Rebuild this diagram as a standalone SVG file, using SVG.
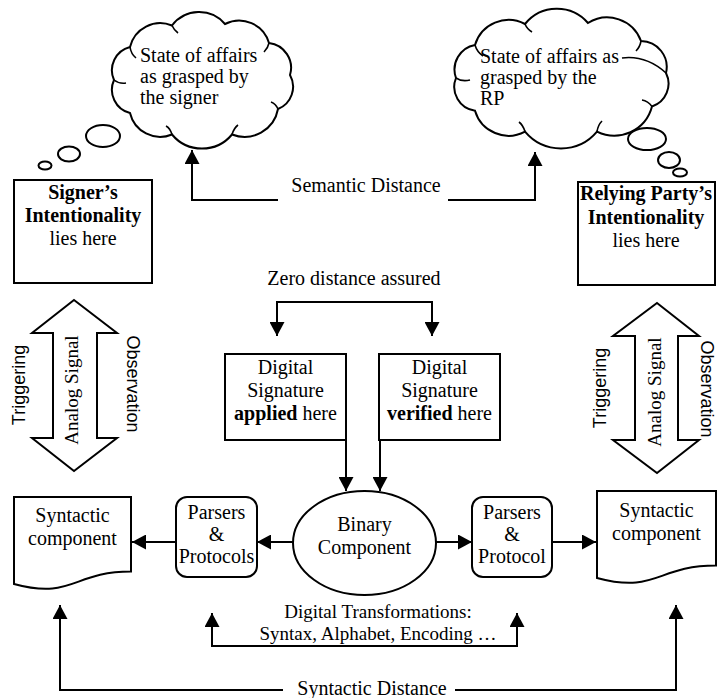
<svg xmlns="http://www.w3.org/2000/svg" width="717" height="698" viewBox="0 0 717 698">
<defs>
<marker id="ah" viewBox="0 0 14 15" refX="14" refY="7.5" markerWidth="14" markerHeight="15" markerUnits="userSpaceOnUse" orient="auto-start-reverse"><path d="M0,0 L14,7.5 L0,15 Z" fill="#000"/></marker>
</defs>
<style>
.s{fill:#fff;stroke:#000;stroke-width:2}
.t{font-family:"Liberation Serif","Times New Roman",serif;font-size:20px;fill:#000}
.c{text-anchor:middle}
.b{font-weight:bold}
.a{font-family:"Liberation Sans",Arial,sans-serif;font-size:18px;fill:#000;text-anchor:middle}
.ln{fill:none;stroke:#000;stroke-width:2}
.cr{fill:none;stroke:#000;stroke-width:1.6}
</style>
<rect width="717" height="698" fill="#fff"/>

<g id="cloud-signer">
<ellipse class="s" cx="45" cy="165.5" rx="6.5" ry="4"/>
<ellipse class="s" cx="69" cy="154" rx="11" ry="7.5"/>
<ellipse class="s" cx="103" cy="136" rx="17" ry="11"/>
<path class="s" d="M114,80 A24,24 0 0 1 130,47 A31,31 0 0 1 172,25.5 A34,34 0 0 1 225,24 A31,31 0 0 1 269,43 A25,25 0 0 1 290,75 A24,24 0 0 1 278,109 A34,34 0 0 1 232,134.5 A39,39 0 0 1 172,134.5 A31,31 0 0 1 130,113 A24,24 0 0 1 114,80 Z"/>
<path class="cr" d="M114,80 Q119,84 126,83 M130,47 Q131,54 136,58 M172,25.5 Q174,30 178,33 M269,43 Q268,48 264,52 M278,109 Q276,104 271,102 M232,134.5 Q234,128 238,125 M172,134.5 Q170,128 166,126"/>
<text class="t" x="140" y="62">State of affairs</text>
<text class="t" x="140" y="83">as grasped by</text>
<text class="t" x="140" y="104">the signer</text>
</g>

<g id="cloud-rp">
<ellipse class="s" cx="680" cy="172.5" rx="7" ry="4"/>
<ellipse class="s" cx="669" cy="160" rx="11" ry="8"/>
<ellipse class="s" cx="647" cy="139" rx="19" ry="11"/>
<path class="s" d="M456,78 A25,25 0 0 1 475,45 A35,35 0 0 1 525,24 A41,41 0 0 1 588,23 A36,36 0 0 1 641,41 A26,26 0 0 1 666,73 A24,24 0 0 1 652,106.5 A39,39 0 0 1 597,131.6 A47,47 0 0 1 525,131.6 A35,35 0 0 1 475,110.7 A24,24 0 0 1 456,78 Z"/>
<path class="cr" d="M456,78 Q462,82 470,80 M475,45 Q477,52 483,56 M525,24 Q527,29 532,32 M641,41 Q640,47 636,51 M666,73 Q646,55 622,58 M652,106.5 Q648,101 642,100 M597,131.6 Q598,125 602,121 M525,131.6 Q523,125 519,122"/>
<text class="t" x="480" y="63">State of affairs as</text>
<text class="t" x="480" y="84">grasped by the</text>
<text class="t" x="480" y="105">RP</text>
</g>

<g id="signer-box">
<rect class="s" x="14" y="180" width="138" height="103"/>
<text class="t c b" x="83" y="199">Signer’s</text>
<text class="t c b" x="83" y="222">Intentionality</text>
<text class="t c" x="83" y="245">lies here</text>
</g>

<g id="rp-box">
<rect class="s" x="578" y="182" width="137" height="103"/>
<text class="t c b" x="646" y="200">Relying Party’s</text>
<text class="t c b" x="646" y="224">Intentionality</text>
<text class="t c" x="646" y="247">lies here</text>
</g>

<g id="signal-left">
<path class="s" d="M74,300 L117,333 L97,333 L97,438 L117,438 L74,471 L32,438 L53,438 L53,333 L32,333 Z"/>
<text class="a" transform="translate(25,385) rotate(-90)">Triggering</text>
<text class="t c" transform="translate(78,390) rotate(-90)" style="font-size:19px">Analog Signal</text>
<text class="a" transform="translate(127,384) rotate(90)">Observation</text>
</g>

<g id="signal-right">
<path class="s" d="M657,303 L699,336 L678,336 L678,440 L699,440 L657,473 L613,440 L635,440 L635,336 L613,336 Z"/>
<text class="a" transform="translate(606,388) rotate(-90)">Triggering</text>
<text class="t c" transform="translate(661,392) rotate(-90)" style="font-size:19px">Analog Signal</text>
<text class="a" transform="translate(701,389) rotate(90)">Observation</text>
</g>

<g id="applied-box">
<rect class="s" x="225" y="354" width="121" height="86"/>
<text class="t c" x="285.5" y="374">Digital</text>
<text class="t c" x="285.5" y="397">Signature</text>
<text class="t c" x="285.5" y="420"><tspan font-weight="bold">applied</tspan> here</text>
</g>

<g id="verified-box">
<rect class="s" x="379" y="354" width="121" height="86"/>
<text class="t c" x="439.5" y="374">Digital</text>
<text class="t c" x="439.5" y="397">Signature</text>
<text class="t c" x="439.5" y="420"><tspan font-weight="bold">verified</tspan> here</text>
</g>

<g id="binary">
<ellipse class="s" cx="364.5" cy="543" rx="71.5" ry="52"/>
<text class="t c" x="364.5" y="531">Binary</text>
<text class="t c" x="364.5" y="554">Component</text>
</g>

<g id="parsers-left">
<rect class="s" x="176" y="497" width="81" height="80" rx="11"/>
<text class="t c" x="216.5" y="519">Parsers</text>
<text class="t c" x="216.5" y="541">&amp;</text>
<text class="t c" x="216.5" y="563">Protocols</text>
</g>

<g id="parsers-right">
<rect class="s" x="472" y="497" width="80" height="80" rx="11"/>
<text class="t c" x="512" y="519">Parsers</text>
<text class="t c" x="512" y="541">&amp;</text>
<text class="t c" x="512" y="563">Protocol</text>
</g>

<g id="syntactic-left">
<path class="s" d="M14,497 H131 V571.6 C72.5,571.6 72.5,600 14,584 Z"/>
<text class="t c" x="72.5" y="522">Syntactic</text>
<text class="t c" x="72.5" y="545">component</text>
</g>

<g id="syntactic-right">
<path class="s" d="M597,491 H716 V565.6 C656.5,565.6 656.5,594 597,578 Z"/>
<text class="t c" x="656.5" y="517">Syntactic</text>
<text class="t c" x="656.5" y="540">component</text>
</g>

<g id="labels">
<text class="t c" x="366" y="192">Semantic Distance</text>
<text class="t c" x="354" y="285">Zero distance assured</text>
<text class="t c" x="378" y="618" style="font-size:19px">Digital Transformations:</text>
<text class="t c" x="378" y="640" style="font-size:19px">Syntax, Alphabet, Encoding …</text>
<text class="t c" x="372" y="695">Syntactic Distance</text>
</g>

<g id="connectors">
<path class="ln" d="M278,200 H192 V150" marker-end="url(#ah)"/>
<path class="ln" d="M448,200 H535 V152" marker-end="url(#ah)"/>
<path class="ln" d="M277,336 V302 H432 V336" marker-start="url(#ah)" marker-end="url(#ah)"/>
<path class="ln" d="M346,440 V491" marker-end="url(#ah)"/>
<path class="ln" d="M380,440 V491" marker-end="url(#ah)"/>
<path class="ln" d="M293,542 H257" marker-end="url(#ah)"/>
<path class="ln" d="M176,542 H132" marker-end="url(#ah)"/>
<path class="ln" d="M436,542 H472" marker-end="url(#ah)"/>
<path class="ln" d="M552,542 H596" marker-end="url(#ah)"/>
<path class="ln" d="M212,613 V646 H517 V613" marker-start="url(#ah)" marker-end="url(#ah)"/>
<path class="ln" d="M283,690 H60 V605" marker-end="url(#ah)"/>
<path class="ln" d="M455,690 H676 V605" marker-end="url(#ah)"/>
</g>
</svg>
